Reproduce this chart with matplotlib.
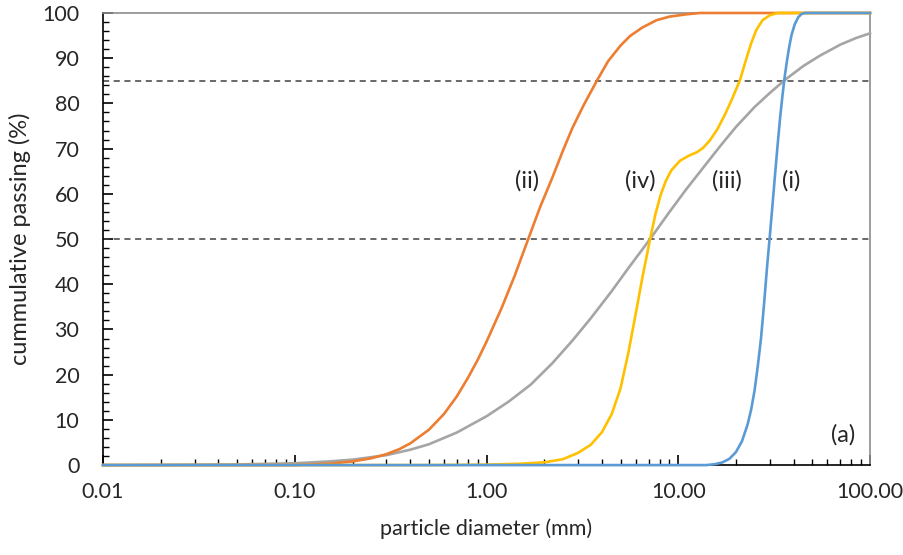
import numpy
import matplotlib
matplotlib.use("Agg")
import matplotlib.pyplot as plt
from matplotlib.ticker import FixedLocator, FixedFormatter, MultipleLocator

### Data ###
# (i) blue
diameterI = [0.01, 10.0, 14.0, 15.5, 17.0, 18.5, 20.0, 21.5, 23.0, 24.0, 25.0, 26.0, 27.0, 28.0, 29.0, 30.0, 31.0, 32.0, 33.0, 34.0, 35.0, 36.0, 37.0, 38.0, 39.0, 40.5, 42.3, 44.0, 46.0, 100.0]
passingI = [0.0, 0.0, 0.0, 0.2, 0.6, 1.4, 2.9, 5.3, 9.0, 12.3, 16.5, 22.0, 28.0, 35.5, 43.5, 50.5, 57.5, 64.5, 71.0, 77.0, 82.0, 86.3, 89.8, 92.8, 95.2, 97.5, 99.1, 99.8, 100.0, 100.0]

# (ii) orange
diameterII = [0.01, 0.1, 0.15, 0.2, 0.25, 0.3, 0.35, 0.4, 0.5, 0.6, 0.7, 0.8, 0.9, 1.0, 1.2, 1.4, 1.65, 1.9, 2.2, 2.5, 2.8, 3.2, 3.76, 4.3, 5.0, 5.6, 6.5, 7.7, 9.0, 11.0, 13.0, 100.0]
passingII = [0.0, 0.0, 0.3, 0.8, 1.5, 2.4, 3.5, 4.8, 7.8, 11.3, 15.2, 19.3, 23.3, 27.3, 34.8, 41.8, 50.0, 57.0, 63.5, 69.5, 74.5, 79.5, 85.0, 89.3, 92.8, 94.9, 96.8, 98.4, 99.2, 99.7, 100.0, 100.0]

# (iii) grey
diameterIII = [0.01, 0.02, 0.05, 0.1, 0.15, 0.2, 0.3, 0.4, 0.5, 0.7, 1.0, 1.3, 1.7, 2.2, 2.8, 3.5, 4.5, 5.5, 7.13, 9.0, 11.0, 13.5, 16.5, 20.0, 25.0, 30.0, 36.0, 45.0, 55.0, 70.0, 85.0, 100.0]
passingIII = [0.0, 0.05, 0.15, 0.4, 0.8, 1.2, 2.2, 3.4, 4.6, 7.2, 10.8, 14.0, 17.8, 22.5, 27.5, 32.5, 38.5, 43.6, 50.0, 56.0, 61.0, 65.8, 70.5, 74.8, 79.2, 82.3, 85.2, 88.3, 90.6, 93.0, 94.5, 95.5]

# (iv) yellow
diameterIV = [0.01, 0.5, 1.0, 1.5, 2.0, 2.5, 3.0, 3.5, 4.0, 4.5, 5.0, 5.5, 6.0, 6.5, 7.13, 7.6, 8.1, 8.6, 9.2, 10.2, 11.3, 12.5, 13.5, 14.6, 16.0, 17.5, 19.0, 21.0, 22.5, 24.0, 25.5, 27.5, 30.0, 33.0, 100.0]
passingIV = [0.0, 0.0, 0.1, 0.3, 0.6, 1.3, 2.7, 4.5, 7.3, 11.3, 17.0, 25.0, 33.5, 41.5, 50.0, 55.5, 59.8, 62.8, 65.2, 67.3, 68.4, 69.2, 70.2, 71.8, 74.3, 77.5, 80.8, 85.2, 89.5, 93.3, 96.2, 98.4, 99.5, 100.0, 100.0]

xTickValues = [0.01, 0.1, 1.0, 10.0, 100.0]
xTickLabels = ["0.01", "0.10", "1.00", "10.00", "100.00"]
referenceLevels = [50, 85]

curveLabels = ["(i)", "(ii)", "(iii)", "(iv)", "(a)"]
curveLabelX = [38.7, 1.63, 17.9, 6.31, 72.3]
curveLabelY = [62.8, 62.8, 62.8, 62.8, 6.6]

### Figure ###
plt.rcParams['font.family'] = ['Lato', 'DejaVu Sans']
textColor = '#262626'

fig = plt.figure(figsize=(9.04, 5.55), dpi=100, facecolor='w')
ax = fig.add_axes([0.114, 0.162, 0.8484, 0.8146])

ax.set_xscale('log')
ax.set_xlim(0.01, 100)
ax.set_ylim(0, 100)

# reference lines
for level in referenceLevels:
	ax.axhline(level, color='#404040', linestyle=(0, (4, 3)), linewidth=1.1, zorder=2)

# curves
ax.plot(diameterIII, passingIII, color='#A5A5A5', linewidth=1.9, clip_on=False, zorder=3)
ax.plot(diameterII, passingII, color='#ED7D31', linewidth=1.9, clip_on=False, zorder=4)
ax.plot(diameterIV, passingIV, color='#FFC000', linewidth=1.9, clip_on=False, zorder=5)
ax.plot(diameterI, passingI, color='#5B9BD5', linewidth=1.9, clip_on=False, zorder=6)

# curve labels
for label, x, y in zip(curveLabels, curveLabelX, curveLabelY):
	ax.text(x, y, label, fontsize=17, color=textColor, ha='center', va='center')

### Axes style ###
ax.spines['left'].set_color('black')
ax.spines['bottom'].set_color('black')
ax.spines['top'].set_color('#8c8c8c')
ax.spines['right'].set_color('#8c8c8c')
for spine in ax.spines.values():
	spine.set_linewidth(1.2)

ax.xaxis.set_major_locator(FixedLocator(xTickValues))
ax.xaxis.set_major_formatter(FixedFormatter(xTickLabels))
minorX = [m * 10.0 ** e for e in range(-2, 2) for m in range(2, 10)]
ax.xaxis.set_minor_locator(FixedLocator(minorX))
ax.xaxis.set_minor_formatter(FixedFormatter([""] * len(minorX)))

ax.yaxis.set_major_locator(MultipleLocator(10))
ax.yaxis.set_minor_locator(MultipleLocator(2))

ax.tick_params(axis='both', which='both', direction='in', colors='black', labelcolor=textColor, labelsize=15.5)
ax.tick_params(axis='x', which='major', length=7, width=1.2, pad=12, top=False)
ax.tick_params(axis='x', which='minor', length=4.5, width=1.0, top=False)
ax.tick_params(axis='y', which='major', length=7, width=1.2, pad=17, right=False)
ax.tick_params(axis='y', which='minor', length=4.5, width=1.0, right=False)

ax.set_xlabel("particle diameter (mm)", fontsize=15.5, color=textColor, labelpad=12)
ax.set_ylabel("cummulative passing (%)", fontsize=17, color=textColor, labelpad=8)

plt.savefig("out.png", dpi=100, facecolor='w')
plt.close(fig)
